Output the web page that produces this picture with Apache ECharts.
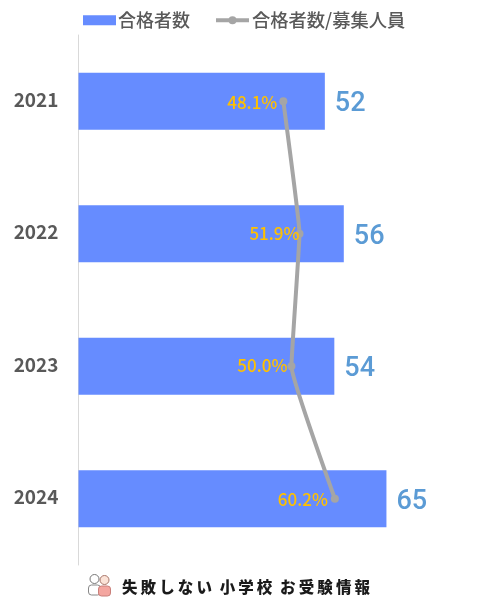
<!DOCTYPE html>
<html><head><meta charset="utf-8">
<style>html,body{margin:0;padding:0;background:#fff}#c{width:481px;height:601px}</style>
<script src="https://cdn.jsdelivr.net/npm/echarts@6/dist/echarts.min.js"></script>
</head><body><div id="c"></div>
<script>
const years = ['2021','2022','2023','2024'];
const passers = [52,56,54,65];
const ratio = [48.1,51.9,50.0,60.2];
const seriesNames = ['合格者数','合格者数/募集人員'];
const footer = '失\u2009敗\u2009し\u2009な\u2009い\u2002小\u2009学\u2009校\u2002お\u2009受\u2009験\u2009情\u2009報';
const labelNudge = [[1,1],[7,0],[3,-1],[0,1]];
const font = '"Noto Sans CJK JP","Noto Sans",sans-serif';
const chart = echarts.init(document.getElementById('c'),null,{renderer:'canvas'});
chart.setOption({
  animation:false,
  backgroundColor:'#fff',
  legend:{left:78,top:6,itemGap:24,itemWidth:33,itemHeight:10,
    data:[{name:seriesNames[0],icon:'rect'},
          {name:seriesNames[1],lineStyle:{width:4,color:'#A5A5A5'},textStyle:{fontSize:18.3,padding:[0,0,0,-2]}}],
    textStyle:{fontFamily:font,fontSize:18,fontWeight:500,color:'#595959',padding:[0,0,0,-3]}},
  grid:{left:78.5,top:35,width:379,height:530,containLabel:false},
  xAxis:[
    {type:'value',min:0,max:80,show:false},
    {type:'value',min:0,max:89,show:false}
  ],
  yAxis:{type:'category',inverse:true,data:years,
    axisLine:{lineStyle:{color:'#D9D9D9',width:1}},axisTick:{show:false},
    axisLabel:{margin:20,fontFamily:font,fontSize:19,fontWeight:'bold',color:'#595959',verticalAlign:'bottom',lineHeight:3}},
  series:[
    {name:seriesNames[0],type:'bar',data:passers,barWidth:'43%',xAxisIndex:0,
     itemStyle:{color:'#668CFF'},
     label:{show:true,position:'right',distance:10,offset:[0,3],fontFamily:'Roboto,'+font,fontSize:27,fontWeight:500,color:'#5B9BD5'}},
    {name:seriesNames[1],type:'line',xAxisIndex:1,smooth:0.08,
     data:ratio.map((v,i)=>({value:v,label:{offset:labelNudge[i]}})),
     symbol:'circle',symbolSize:8,
     lineStyle:{color:'#A5A5A5',width:4},itemStyle:{color:'#A5A5A5'},
     label:{show:true,position:'left',distance:3,fontFamily:font,fontSize:17,fontWeight:500,color:'#FFC000',
       formatter:p=>p.value.toFixed(1)+'%'}}
  ],
  graphic:[
    {type:'text',left:122,top:579,style:{text:footer,fontFamily:font,fontSize:15.5,fontWeight:900,fill:'#1a1a1a'}},
    {type:'group',left:88,top:574,children:[
      {type:'circle',shape:{cx:7,cy:6,r:4.5},style:{fill:'#fff',stroke:'#777',lineWidth:1}},
      {type:'rect',shape:{x:1,y:12,width:12,height:10,r:3},style:{fill:'#fff',stroke:'#888',lineWidth:1}},
      {type:'circle',shape:{cx:17,cy:7,r:4.5},style:{fill:'#fbe3d8',stroke:'#a8766a',lineWidth:1}},
      {type:'rect',shape:{x:11,y:13,width:12,height:10,r:3},style:{fill:'#f4a6a0',stroke:'#c97f7a',lineWidth:1}}
    ]}
  ]
});
</script></body></html>
